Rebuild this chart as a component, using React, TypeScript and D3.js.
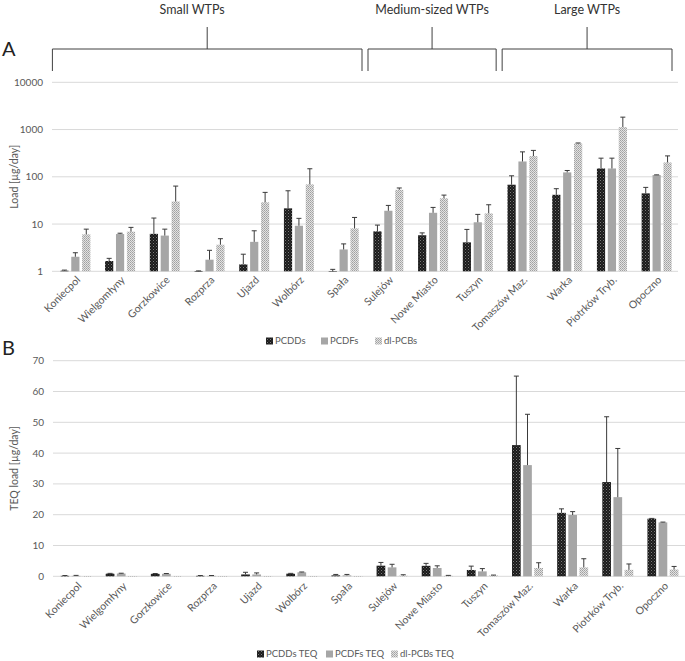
import React from "react";
import * as d3 from "d3";

const categories = ["Koniecpol","Wielgomłyny","Gorzkowice","Rozprza","Ujazd","Wolbórz","Spała","Sulejów","Nowe Miasto","Tuszyn","Tomaszów Maz.","Warka","Piotrków Tryb.","Opoczno"];

const seriesA = ["PCDDs","PCDFs","dl-PCBs"];
const pcdds = [1.03,1.65,6.2,1.01,1.4,21.5,1.0,7.0,5.8,4.1,68,41.6,150,44.6];
const pcddsErr = [0.03,0.23,7.2,0.01,0.9,29.1,0.1,2.5,0.7,3.6,37,14.4,98,15.1];
const pcdfs = [2.03,6.15,5.7,1.76,4.2,9.2,2.9,19.1,17.3,10.9,211,124,150,109];
const pcdfsErr = [0.44,0.25,2.1,1.02,3.0,4.0,0.9,5.7,5.2,5.1,126,12,98,1];
const dlpcbs = [6.05,6.9,30,3.65,28.8,69,8.1,53,35,16.8,274,508,1130,201];
const dlpcbsErr = [1.75,1.6,33.6,1.25,18,79,5.7,5,6,8.8,88,12,700,76];

const seriesB = ["PCDDs TEQ","PCDFs TEQ","dl-PCBs TEQ"];
const pcddsTeq = [0.15,0.85,0.8,0.15,0.6,0.85,0.3,3.45,3.4,2.05,42.6,20.6,30.6,18.7];
const pcddsTeqErr = [0.1,0.1,0.1,0.1,0.7,0.1,0.3,1.05,0.8,1.25,22.4,1.3,21.2,0.1];
const pcdfsTeq = [0.15,0.9,0.8,0.15,0.6,1.3,0.3,2.9,2.7,1.6,36.1,19.9,25.7,17.5];
const pcdfsTeqErr = [0.15,0.1,0.1,0.1,0.5,0.1,0.3,1.0,0.7,0.9,16.5,1.1,15.8,0.1];
const dlpcbsTeq = [0.02,0.03,0.03,0.01,0.03,0.03,0.02,0.2,0.2,0.3,2.7,2.9,2.1,2.2];
const dlpcbsTeqErr = [0,0,0,0,0,0,0,0.3,0.1,0.1,1.7,2.8,1.9,1.0];

const ticksA = [1,10,100,1000,10000];
const ticksB = [0,10,20,30,40,50,60,70];

const groups = [
  { label: "Small WTPs", from: 0, to: 6 },
  { label: "Medium-sized WTPs", from: 7, to: 9 },
  { label: "Large WTPs", from: 10, to: 13 },
];

const FONT = "Lato, 'Open Sans', sans-serif";
const TXT = "#595959";
const GRID = "#d9d9d9";
const fills = ["url(#patDark)", "#a6a6a6", "url(#patLight)"];

function Panel({ vals, errs, names, x, y, ticks, tickFmt, yTitle, labelY, legendY, legendX, inner, barW, baseVal }) {
  const [y0, y1] = y.range();
  return (
    <g>
      {ticks.map((t) => (
        <g key={t}>
          <line x1={x.range()[0]} x2={x.range()[1]} y1={y(t)} y2={y(t)} stroke={GRID} strokeWidth={1} />
          <text x={x.range()[0] - 9} y={y(t)} dy="0.35em" textAnchor="end" fontSize={10} fill={TXT} fontFamily={FONT}>{tickFmt(t)}</text>
        </g>
      ))}
      <text transform={`translate(14,${(y0 + y1) / 2}) rotate(-90)`} textAnchor="middle" dy="0.35em" fontSize={10.5} fill={TXT} fontFamily={FONT}>{yTitle}</text>
      {categories.map((c, i) => {
        const cx = x(c)! + x.bandwidth() / 2;
        return (
          <g key={c}>
            {vals.map((arr, s) => {
              const bx = x(c)! + inner(String(s))!;
              const v = arr[i];
              const top = y(v);
              const base = y(baseVal);
              const e = errs[s][i];
              const et = y(v + e);
              return (
                <g key={s}>
                  <rect x={bx} y={Math.min(top, base)} width={barW} height={Math.max(0.5, Math.abs(base - top))} fill={fills[s]} />
                  {e > 0 && (
                    <g stroke="#3a3a3a" strokeWidth={1}>
                      <line x1={bx + barW / 2} x2={bx + barW / 2} y1={top} y2={et} />
                      <line x1={bx + barW / 2 - 2.5} x2={bx + barW / 2 + 2.5} y1={et} y2={et} />
                    </g>
                  )}
                </g>
              );
            })}
            <text transform={`translate(${cx + 4},${labelY}) rotate(-45)`} textAnchor="end" dy="0.35em" fontSize={10.5} fill={TXT} fontFamily={FONT}>{c}</text>
          </g>
        );
      })}
      {names.map((n, s) => (
        <g key={n}>
          <rect x={legendX[s]} y={legendY - 3.5} width={7} height={7} fill={fills[s]} />
          <text x={legendX[s] + 9} y={legendY} dy="0.35em" fontSize={9.5} fill={TXT} fontFamily={FONT}>{n}</text>
        </g>
      ))}
    </g>
  );
}

export default function App() {
  const xA = d3.scaleBand<string>().domain(categories).range([52, 678]);
  const yA = d3.scaleLog().domain([1, 10000]).range([271.3, 82.3]);
  const innerA = d3.scaleBand<string>().domain(["0", "1", "2"]).range([xA.bandwidth() / 2 - 14, xA.bandwidth() / 2 + 16]).paddingInner(0.25);
  const xB = d3.scaleBand<string>().domain(categories).range([53, 685]);
  const yB = d3.scaleLinear().domain([0, 70]).range([576.3, 360.7]);
  const innerB = d3.scaleBand<string>().domain(["0", "1", "2"]).range([xB.bandwidth() / 2 - 15, xB.bandwidth() / 2 + 16]).paddingInner(0.22);

  return (
    <svg width={685} height={661} style={{ position: "absolute", left: 0, top: 0, background: "#fff" }} fontFamily={FONT}>
      <defs>
        <pattern id="patDark" width={3} height={3} patternUnits="userSpaceOnUse">
          <rect width={3} height={3} fill="#1a1a1a" />
          <rect x={0} y={0} width={1} height={1} fill="#7a7a7a" />
          <rect x={1.5} y={1.5} width={1} height={1} fill="#5a5a5a" />
        </pattern>
        <pattern id="patLight" width={2} height={2} patternUnits="userSpaceOnUse">
          <rect width={2} height={2} fill="#e2e2e2" />
          <rect x={0} y={0} width={1} height={1} fill="#a0a0a0" />
          <rect x={1} y={1} width={1} height={1} fill="#b0b0b0" />
        </pattern>
      </defs>
      <rect width={685} height={661} fill="#fff" />
      {groups.map((g) => {
        const left = xA(categories[g.from])! + 0;
        const right = xA(categories[g.to])! + xA.bandwidth();
        const l = g.from === 0 ? 52.4 : left + 3;
        const r = g.to === 13 ? 672 : right - 3;
        const mid = (l + r) / 2;
        return (
          <g key={g.label}>
            <text x={mid - (g.from === 0 ? 15 : 0)} y={10} dy="0.35em" textAnchor="middle" fontSize={12.5} fill="#333" fontFamily={FONT}>{g.label}</text>
            <path d={`M${l},71 V49 H${r} V71 M${mid},49 V27`} fill="none" stroke="#404040" strokeWidth={1} />
          </g>
        );
      })}
      <text x={2} y={49} dy="0.35em" fontSize={20} fill="#222" fontFamily={FONT}>A</text>
      <text x={2} y={348} dy="0.35em" fontSize={20} fill="#222" fontFamily={FONT}>B</text>
      <Panel vals={[pcdds, pcdfs, dlpcbs]} errs={[pcddsErr, pcdfsErr, dlpcbsErr]} names={seriesA} x={xA} y={yA} ticks={ticksA}
        tickFmt={(t) => String(t)} yTitle="Load [µg/day]" labelY={278} legendY={341} legendX={[266, 321, 375]} inner={innerA} barW={innerA.bandwidth()} baseVal={1} />
      <Panel vals={[pcddsTeq, pcdfsTeq, dlpcbsTeq]} errs={[pcddsTeqErr, pcdfsTeqErr, dlpcbsTeqErr]} names={seriesB} x={xB} y={yB} ticks={ticksB}
        tickFmt={(t) => String(t)} yTitle="TEQ load [µg/day]" labelY={584} legendY={654} legendX={[257, 326, 391]} inner={innerB} barW={innerB.bandwidth()} baseVal={0} />
    </svg>
  );
}
